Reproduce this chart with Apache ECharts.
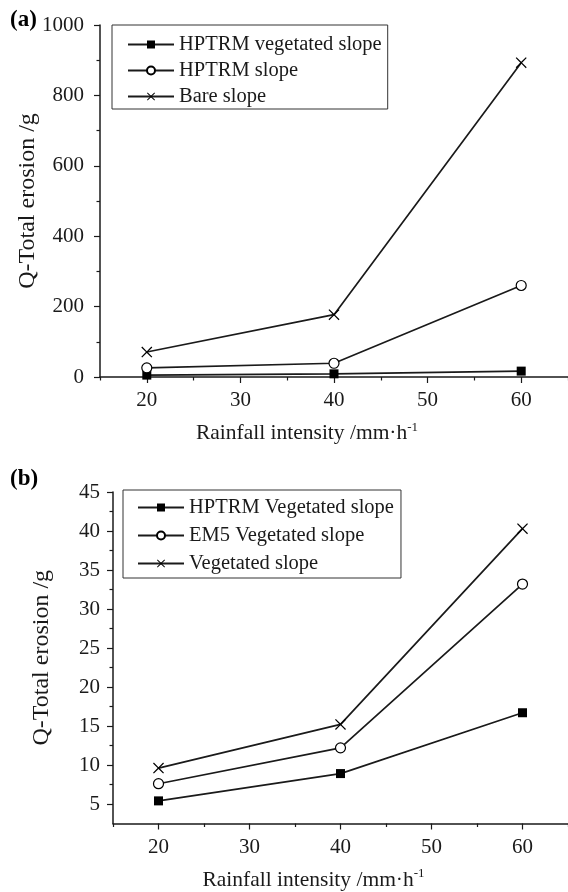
<!DOCTYPE html>
<html><head><meta charset="utf-8">
<script src="https://cdn.jsdelivr.net/npm/echarts@6/dist/echarts.min.js"></script>
<style>html,body{margin:0;padding:0;background:#fff}#c{width:568px;height:892px}</style>
</head><body><div id="c"></div>
<script>
// ---- data ----
const intensity = [20, 40, 60];
const aNames = ['HPTRM vegetated slope', 'HPTRM slope', 'Bare slope'];
const aVegetated = [5.4, 9.0, 16.7];
const aHptrm = [26, 39, 260];
const aBare = [71, 177, 893];
const bNames = ['HPTRM Vegetated slope', 'EM5 Vegetated slope', 'Vegetated slope'];
const bHptrmVeg = [5.4, 8.9, 16.7];
const bEm5Veg = [7.6, 12.2, 33.2];
const bVeg = [9.6, 15.2, 40.3];
// tick labels
const xMajor = [20, 30, 40, 50, 60];
const xMinor = [15, 25, 35, 45, 55, 65];
const aYMajor = [0, 200, 400, 600, 800, 1000];
const aYMinor = [100, 300, 500, 700, 900];
const bYMajor = [5, 10, 15, 20, 25, 30, 35, 40, 45];
const bYMinor = [7.5, 12.5, 17.5, 22.5, 27.5, 32.5, 37.5, 42.5];

const FONT = 'Liberation Serif';
const INK = '#1a1a1a';
const crossPath = 'path://M0,0.8L0.8,0L5,4.2L9.2,0L10,0.8L5.8,5L10,9.2L9.2,10L5,5.8L0.8,10L0,9.2L4.2,5Z';
const symbols = [
  {symbol: 'rect', size: 9, item: {color: '#000'}},
  {symbol: 'circle', size: 10, item: {color: '#fff', borderColor: '#000', borderWidth: 1.2}},
  {symbol: crossPath, size: 11, item: {color: '#000'}}
];
const pairs = v => intensity.map((x, i) => [x, v[i]]);

function mkSeries(names, vals, gi) {
  return names.map((n, k) => ({
    name: n, type: 'line', xAxisIndex: gi * 2, yAxisIndex: gi * 2,
    data: pairs(vals[k]), symbol: symbols[k].symbol, symbolSize: symbols[k].size,
    itemStyle: symbols[k].item, lineStyle: {color: INK, width: 1.7},
    z: 3 + k, animation: false
  }));
}

function xAxes(gi) {
  return [
    {type: 'value', gridIndex: gi, min: 15, max: 65, position: 'bottom',
      name: '{a|Rainfall intensity /mm·h}{s|-1}',
      nameLocation: 'middle', nameGap: 44,
      nameTextStyle: {padding: [0, 54, 0, 0], rich: {a: {fontFamily: FONT, fontSize: 21.5, color: INK}, s: {fontFamily: FONT, fontSize: 13, color: INK, padding: [0, 0, 12, 0]}}},
      axisLine: {onZero: false, lineStyle: {color: INK, width: 1.5}},
      axisTick: {customValues: xMajor, length: 6, lineStyle: {color: INK, width: 1.2}},
      axisLabel: {customValues: xMajor, margin: 13, fontFamily: FONT, fontSize: 21, color: INK},
      splitLine: {show: false}},
    {type: 'value', gridIndex: gi, min: 15, max: 65, position: 'bottom',
      axisLine: {show: false, onZero: false},
      axisTick: {customValues: xMinor, length: 3.5, lineStyle: {color: INK, width: 1.2}},
      axisLabel: {show: false, customValues: xMinor}, splitLine: {show: false}}
  ];
}
function yAxes(gi, min, max, major, minor, gap, margin) {
  return [
    {type: 'value', gridIndex: gi, min: min, max: max, position: 'left',
      name: 'Q-Total erosion /g', nameLocation: 'middle', nameGap: gap, nameMoveOverlap: false,
      nameTextStyle: {fontFamily: FONT, fontSize: 24, color: INK},
      axisLine: {onZero: false, lineStyle: {color: INK, width: 1.5}},
      axisTick: {customValues: major, length: 6, lineStyle: {color: INK, width: 1.2}},
      axisLabel: {customValues: major, margin: margin, fontFamily: FONT, fontSize: 21, color: INK, formatter: v => String(v)},
      splitLine: {show: false}},
    {type: 'value', gridIndex: gi, min: min, max: max, position: 'left',
      axisLine: {show: false, onZero: false},
      axisTick: {customValues: minor, length: 3.5, lineStyle: {color: INK, width: 1.2}},
      axisLabel: {show: false, customValues: minor}, splitLine: {show: false}}
  ];
}

const legendCommon = {
  orient: 'vertical', itemWidth: 46, itemHeight: 10,
  backgroundColor: '#fff', borderColor: '#333', borderWidth: 1, borderRadius: 0,
  textStyle: {fontFamily: FONT, fontSize: 20.5, color: INK},
  inactiveColor: '#999'
};

const chart = echarts.init(document.getElementById('c'), null, {renderer: 'canvas'});
chart.setOption({
  animation: false,
  backgroundColor: '#fff',
  title: [
    {text: '(a)', left: 5, top: 4, textStyle: {fontFamily: FONT, fontSize: 23, fontWeight: 'bold', color: '#000'}},
    {text: '(b)', left: 5, top: 463, textStyle: {fontFamily: FONT, fontSize: 23, fontWeight: 'bold', color: '#000'}}
  ],
  grid: [
    {left: 100, top: 25, width: 475, height: 352, containLabel: false},
    {left: 113, top: 492, width: 457, height: 332, containLabel: false}
  ],
  xAxis: [...xAxes(0), ...xAxes(1)],
  yAxis: [...yAxes(0, 0, 1000, aYMajor, aYMinor, 60, 16), ...yAxes(1, 2.5, 45, bYMajor, bYMinor, 59, 13)],
  legend: [
    Object.assign({}, legendCommon, {left: 112, top: 25, data: aNames, padding: [9, 6, 2, 15], itemGap: 5}),
    Object.assign({}, legendCommon, {left: 123, top: 490, data: bNames, padding: [7, 7, 4, 14], itemGap: 7})
  ],
  series: [
    ...mkSeries(aNames, [aVegetated, aHptrm, aBare], 0),
    ...mkSeries(bNames, [bHptrmVeg, bEm5Veg, bVeg], 1)
  ]
});
</script></body></html>
